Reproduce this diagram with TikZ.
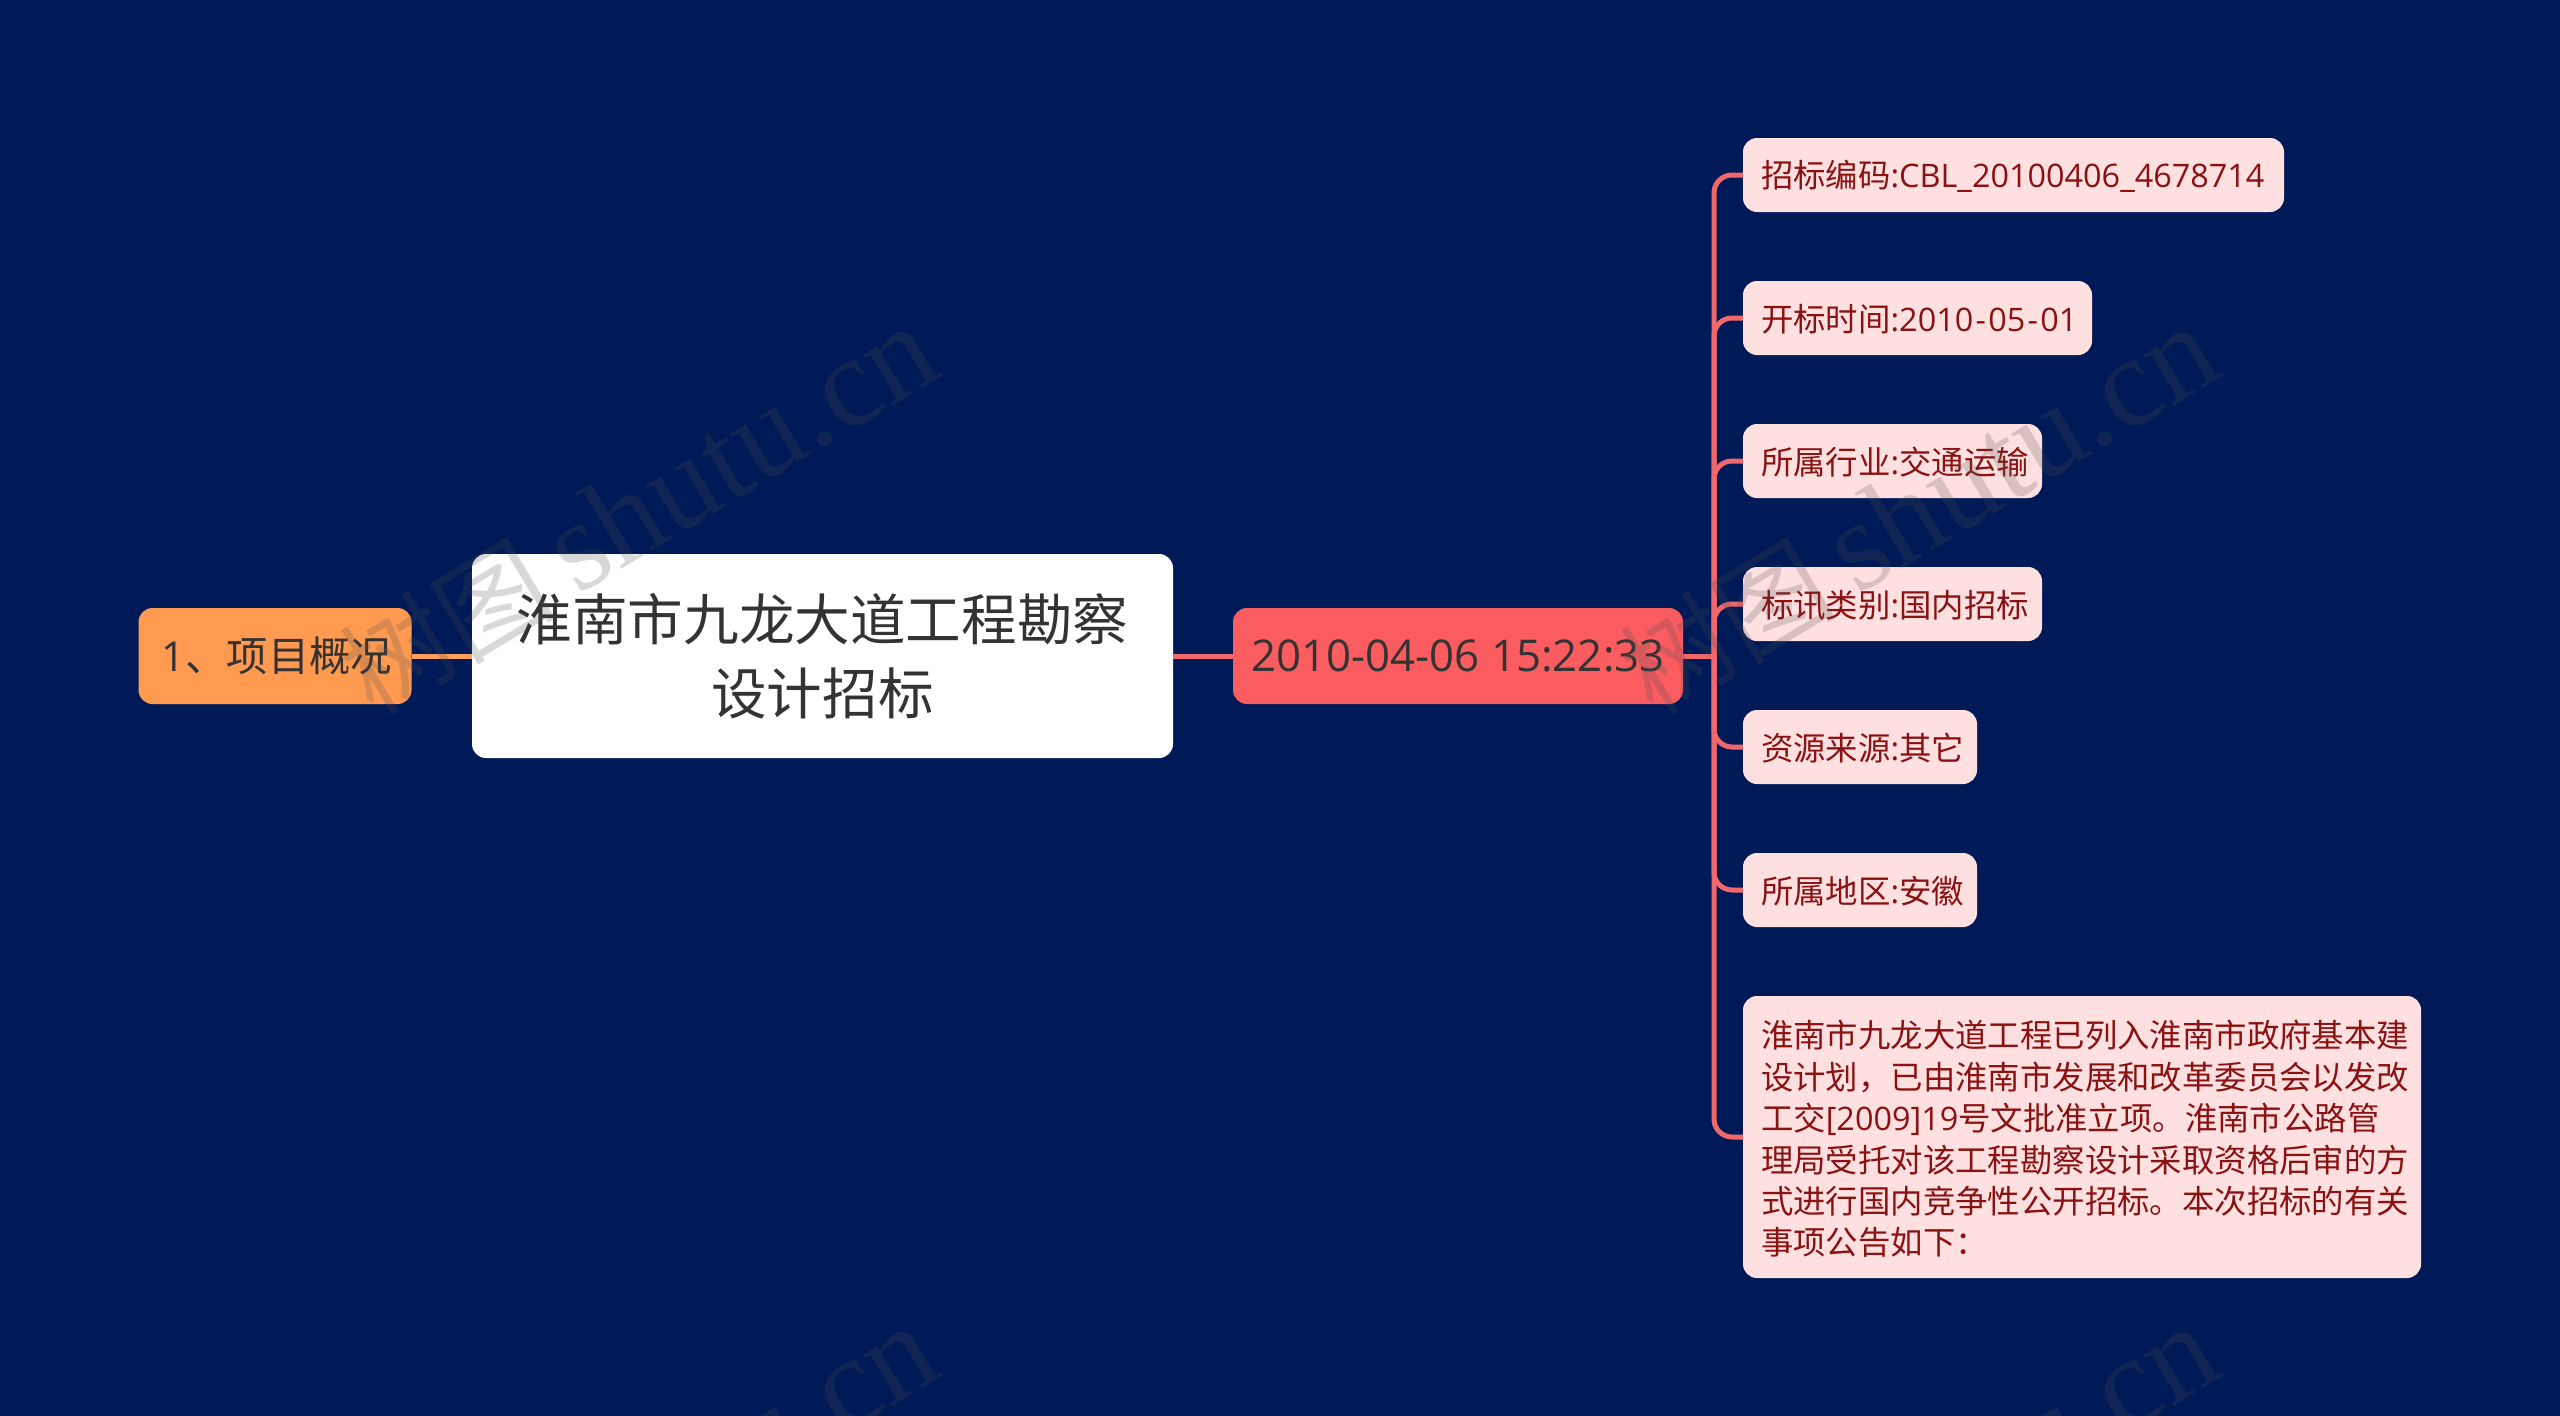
\documentclass[tikz,border=0pt]{standalone}
\usepackage{fontspec}
\setmainfont{Noto Sans CJK SC}
\newfontfamily\wmserif{Liberation Serif}
\newfontfamily\latfont{Open Sans}
\newfontfamily\datefont[Scale=1.06]{Open Sans}
\newcommand{\lat}[1]{{\latfont #1}}
\newcommand{\hyp}{\kern.07em-\kern.07em}
\usetikzlibrary{calc}
\definecolor{bgblue}{HTML}{001A57}
\definecolor{linered}{HTML}{F0686C}
\definecolor{lineorange}{HTML}{FF9D5C}
\definecolor{datered}{HTML}{FB5C60}
\definecolor{orangebox}{HTML}{FF9A50}
\definecolor{leafbox}{HTML}{FFE0E1}
\definecolor{leaftext}{HTML}{8B1212}
\definecolor{darktext}{HTML}{333333}
\definecolor{wmgrey}{HTML}{505050}
\tikzset{
  x=1pt,y=-1pt,
  mapbox/.style={rectangle,rounded corners=14pt,inner sep=0pt,align=center},
  rootbox/.style={mapbox,fill=white,text=darktext,font=\fontsize{55.6}{73.5}\selectfont},
  midbox/.style={mapbox,text=darktext,font=\fontsize{41.3}{50}\selectfont,minimum height=96pt},
  leafnode/.style={mapbox,fill=leafbox,text=leaftext,align=left,inner xsep=10pt,font=\fontsize{32.4}{41.4}\selectfont,minimum height=74pt},
  conn/.style={draw=linered,line width=5pt},
  wmark/.style={rotate=31,anchor=base east,inner sep=0pt,text=wmgrey,text opacity=.22,font=\fontsize{128}{128}\selectfont},
}
\newcommand{\wmtext}{{\fontsize{108}{108}\selectfont 树图}\,{\wmserif shutu.cn}}
\newcommand{\leadin}{\hspace*{8pt}}
\begin{document}
\begin{tikzpicture}
\useasboundingbox (0,0) rectangle (2560,1416);
\fill[bgblue] (0,0) rectangle (2560,1416);
% main nodes
\node[rootbox,minimum width=701pt,minimum height=204pt] (root) at (822.5,656) {淮南市九龙大道工程勘察\\设计招标};
\node[midbox,fill=orangebox,minimum width=273pt] (topic) at (275,656) {\hspace*{4pt}\lat{1}、项目概况};
\node[midbox,fill=datered,minimum width=450pt] (date) at (1458,656) {{\datefont 2010-04-06 15:22:33}};
% leaves
\node[leafnode,text width=521pt] (l1) at (2013.5,175) {\leadin 招标编码\lat{:CBL\_20100406\_4678714}\vspace*{-3pt}};
\node[leafnode,text width=329pt] (l2) at (1917.5,318) {\leadin 开标时间\lat{:2010\hyp05\hyp01}\vspace*{-3pt}};
\node[leafnode,text width=279pt] (l3) at (1892.5,461) {\leadin 所属行业\lat{:}交通运输\vspace*{-3pt}};
\node[leafnode,text width=279pt] (l4) at (1892.5,604) {\leadin 标讯类别\lat{:}国内招标\vspace*{-3pt}};
\node[leafnode,text width=214pt] (l5) at (1860,747) {\leadin 资源来源\lat{:}其它\vspace*{-3pt}};
\node[leafnode,text width=214pt] (l6) at (1860,890) {\leadin 所属地区\lat{:}安徽\vspace*{-3pt}};
\node[leafnode,text width=658pt,minimum height=282pt] (l7) at (2082,1137) {\leadin 淮南市九龙大道工程已列入淮南市政府基本建\\\leadin 设计划，已由淮南市发展和改革委员会以发改\\\leadin 工交\lat{[2009]19}号文批准立项。淮南市公路管\\\leadin 理局受托对该工程勘察设计采取资格后审的方\\\leadin 式进行国内竞争性公开招标。本次招标的有关\\\leadin 事项公告如下：\vspace*{-4pt}};
% connectors
\coordinate (trunk) at (1714,656);
\draw[draw=lineorange,line width=5pt] (topic.east) -- (root.west);
\draw[conn] (root.east) -- (date.west);
\draw[conn] (date.east) -- (trunk);
\foreach \leaf in {l1,l2,l3,l4,l5,l6,l7}{
  \draw[conn,rounded corners=18pt] (trunk) |- (\leaf.west);
}
% watermark
\node[wmark] (wm1) at (946,374) {\wmtext};
\node[wmark] (wm2) at (2226,374) {\wmtext};
\node[wmark] (wm3) at (946,1374) {\wmtext};
\node[wmark] (wm4) at (2226,1374) {\wmtext};
\end{tikzpicture}
\end{document}
